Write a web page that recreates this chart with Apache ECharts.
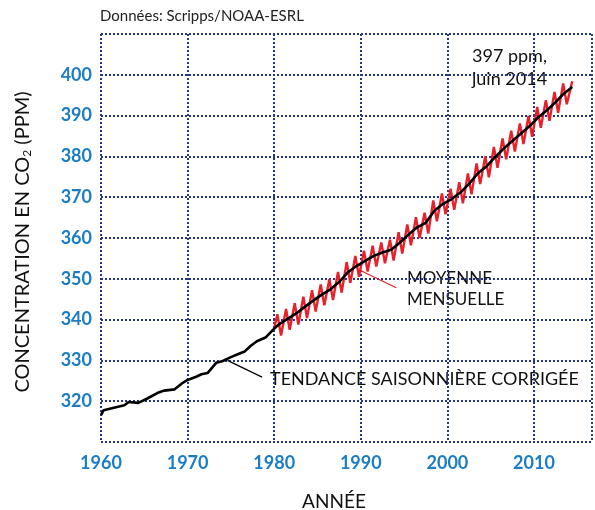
<!DOCTYPE html>
<html>
<head>
<meta charset="utf-8">
<script src="https://cdn.jsdelivr.net/npm/echarts@6/dist/echarts.min.js"></script>
<style>
  html, body { margin: 0; padding: 0; background: #fff; }
  #chart { width: 595px; height: 510px; }
</style>
</head>
<body>
<div id="chart"></div>
<script>
// Tendance saisonnière corrigée (black)
const trendYears = [
  1960.0, 1960.3, 1961.5, 1962.7, 1963.2, 1964.3, 1965.3, 1966.5, 1967.3, 1968.5,
  1969.3, 1970.0, 1971.0, 1971.6, 1972.3, 1973.3, 1974.0, 1975.0, 1976.0, 1976.6,
  1977.3, 1978.0, 1979.0, 1980.0, 1980.5, 1981.5, 1982.5, 1983.5, 1984.5, 1985.5,
  1986.5, 1987.5, 1988.5, 1989.5, 1990.5, 1991.5, 1992.5, 1993.5, 1994.5, 1995.5,
  1996.5, 1997.5, 1998.5, 1999.5, 2000.5, 2001.5, 2002.5, 2003.5, 2004.5, 2005.5,
  2006.5, 2007.5, 2008.5, 2009.5, 2010.5, 2011.5, 2012.5, 2013.5, 2014.42
]
const trendValues = [
  316.6, 317.8, 318.4, 319.0, 319.8, 319.6, 320.6, 322.0, 322.6, 322.9,
  324.3, 325.2, 326.0, 326.6, 326.9, 329.4, 329.8, 330.8, 331.7, 332.2,
  333.6, 334.7, 335.6, 337.8, 338.75, 340.11, 341.45, 343.05, 344.65, 346.12,
  347.42, 349.19, 351.57, 353.12, 354.39, 355.61, 356.45, 357.10, 358.83, 360.82,
  362.61, 363.73, 366.70, 368.38, 369.55, 371.14, 373.28, 375.80, 377.52, 379.80,
  381.90, 383.79, 385.60, 387.43, 389.6, 391.3, 393.3, 395.5, 397.0
]

// Moyenne mensuelle (red): maxima (mai) et minima (oct.)
const monthlyYears = [
  1980.0,
  1980.37, 1980.79, 1981.37, 1981.79, 1982.37, 1982.79, 1983.37, 1983.79, 1984.37, 1984.79,
  1985.37, 1985.79, 1986.37, 1986.79, 1987.37, 1987.79, 1988.37, 1988.79, 1989.37, 1989.79,
  1990.37, 1990.79, 1991.37, 1991.79, 1992.37, 1992.79, 1993.37, 1993.79, 1994.37, 1994.79,
  1995.37, 1995.79, 1996.37, 1996.79, 1997.37, 1997.79, 1998.37, 1998.79, 1999.37, 1999.79,
  2000.37, 2000.79, 2001.37, 2001.79, 2002.37, 2002.79, 2003.37, 2003.79, 2004.37, 2004.79,
  2005.37, 2005.79, 2006.37, 2006.79, 2007.37, 2007.79, 2008.37, 2008.79, 2009.37, 2009.79,
  2010.37, 2010.79, 2011.37, 2011.79, 2012.37, 2012.79, 2013.37, 2013.79, 2014.42
]
const monthlyValues = [
  337.9,
  341.3, 336.1, 342.6, 337.5, 344.0, 338.8, 345.6, 340.4, 347.2, 342.0,
  348.6, 343.5, 349.9, 344.8, 351.7, 346.6, 354.1, 349.0, 355.6, 350.5,
  356.9, 351.8, 358.1, 353.0, 358.9, 353.8, 359.6, 354.5, 361.4, 356.2,
  363.3, 358.2, 365.1, 360.0, 366.2, 361.1, 369.2, 364.1, 370.9, 365.8,
  372.1, 366.9, 373.7, 368.5, 375.8, 370.7, 378.3, 373.2, 380.0, 374.9,
  382.3, 377.2, 384.4, 379.3, 386.3, 381.2, 388.1, 383.0, 389.9, 384.8,
  392.1, 387.0, 393.8, 388.7, 395.8, 390.7, 397.9, 392.8, 398.4
]

const xTicks = [1960, 1970, 1980, 1990, 2000, 2010]
const yTicks = [320, 330, 340, 350, 360, 370, 380, 390, 400]

const trendData = trendYears.map((y, i) => [y, trendValues[i]])
const monthlyData = monthlyYears.map((y, i) => [y, monthlyValues[i]])

const gridLine = { color: '#24348c', width: 2, type: [2, 2] }
const tickLabel = { color: '#1b7dc5', fontFamily: 'Lato', fontWeight: 'bold', fontSize: 18 }
const textFont = 'Lato'

const chart = echarts.init(document.getElementById('chart'), null, { renderer: 'canvas' })

const option = {
  animation: false,
  backgroundColor: '#fff',
  grid: { left: 101, right: 1, top: 34, bottom: 68 },
  xAxis: {
    type: 'value',
    min: 1960,
    max: 2016.7,
    interval: 10,
    axisLine: { show: false },
    axisTick: { show: false },
    splitLine: { show: true, lineStyle: gridLine },
    axisLabel: Object.assign({}, tickLabel, {
      margin: 12,
      formatter: v => (xTicks.indexOf(v) >= 0 ? String(v) : '')
    })
  },
  yAxis: {
    type: 'value',
    min: 310,
    max: 410,
    interval: 10,
    axisLine: { show: false },
    axisTick: { show: false },
    splitLine: { show: true, lineStyle: gridLine },
    axisLabel: Object.assign({}, tickLabel, {
      margin: 9,
      formatter: v => (yTicks.indexOf(v) >= 0 ? String(v) : '')
    })
  },
  series: [
    {
      name: 'MOYENNE MENSUELLE',
      type: 'line',
      data: monthlyData,
      showSymbol: false,
      lineStyle: { color: '#e8202a', width: 2.4 },
      z: 2,
      markLine: {
        silent: true,
        symbol: 'none',
        label: { show: false },
        lineStyle: { color: '#e8202a', width: 1.2, type: 'solid' },
        data: [[{ coord: [1989.9, 352.1] }, { coord: [1994.1, 347.8] }]]
      }
    },
    {
      name: 'TENDANCE SAISONNIÈRE CORRIGÉE',
      type: 'line',
      data: trendData,
      showSymbol: false,
      lineStyle: { color: '#000', width: 2.6 },
      z: 3,
      markLine: {
        silent: true,
        symbol: 'none',
        label: { show: false },
        lineStyle: { color: '#000', width: 1.2, type: 'solid' },
        data: [[{ coord: [1974.6, 330.0] }, { coord: [1978.6, 325.9] }]]
      }
    }
  ],
  graphic: [
    {
      type: 'text', left: 100, top: 9,
      style: { text: 'Données: Scripps/NOAA-ESRL', fill: '#222', font: '15px ' + textFont }
    },
    {
      type: 'text', left: 472, top: 45,
      style: { text: '397 ppm,\njuin 2014', fill: '#111', font: '18px ' + textFont, lineHeight: 23 }
    },
    {
      type: 'text', left: 407, top: 268,
      style: { text: 'MOYENNE\nMENSUELLE', fill: '#111', font: '17px ' + textFont, lineHeight: 21 }
    },
    {
      type: 'text', left: 270, top: 370,
      style: { text: 'TENDANCE SAISONNIÈRE CORRIGÉE', fill: '#111', font: '18px ' + textFont }
    },
    {
      type: 'text', x: 334, y: 492,
      style: { text: 'ANNÉE', fill: '#111', font: '19px ' + textFont, align: 'center', verticalAlign: 'top' }
    },
    {
      type: 'text', x: 23, y: 242, rotation: Math.PI / 2,
      style: {
        text: 'CONCENTRATION EN CO{sub|2} (PPM)',
        fill: '#111',
        font: '20px ' + textFont,
        align: 'center',
        verticalAlign: 'middle',
        rich: {
          sub: { fontSize: 12, fontFamily: textFont, fill: '#111', verticalAlign: 'bottom', padding: [8, 0, 0, 0] }
        }
      }
    }
  ]
}

chart.setOption(option)
</script>
</body>
</html>
